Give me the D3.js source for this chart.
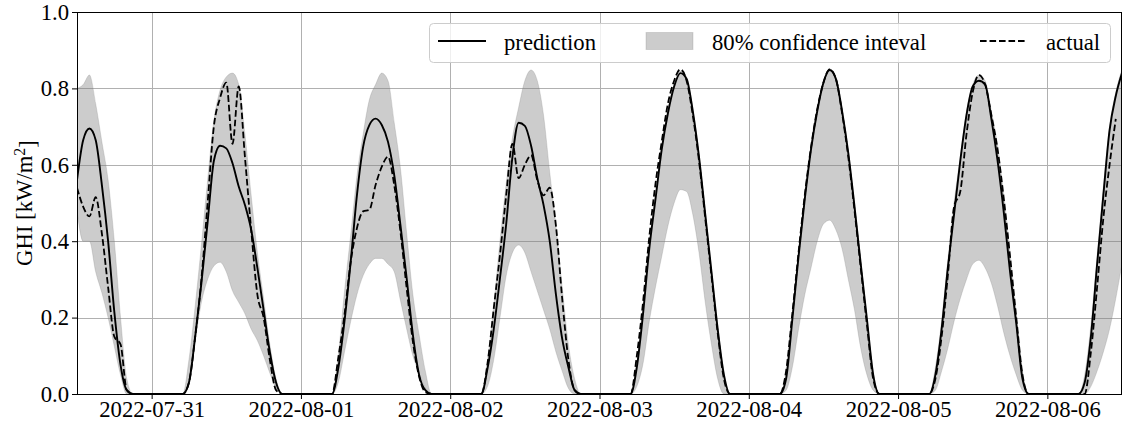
<!DOCTYPE html>
<html>
<head>
<meta charset="utf-8">
<script src="https://cdn.jsdelivr.net/npm/d3@7"></script>
<style>
  body { margin: 0; background: #fff; }
  svg text { font-family: "Liberation Serif", "Times New Roman", Times, Tinos, "Nimbus Roman", "DejaVu Serif", serif; }
</style>
</head>
<body>
<div id="chart"></div>
<script>
// first hour of each block of hourly readings (night hours in between are 0)
var day_starts = ["2022-07-30 12:00", "2022-07-31 05:00", "2022-08-01 05:00", "2022-08-02 05:00",
                  "2022-08-03 05:00", "2022-08-04 05:00", "2022-08-05 05:00", "2022-08-06 05:00"];

// predicted GHI [kW/m2], hourly
var prediction = [
    [0.56, 0.665, 0.695, 0.665, 0.547, 0.40, 0.215, 0.076, 0.01, 0],
    [0, 0.03, 0.15, 0.29, 0.45, 0.61, 0.65, 0.643, 0.604, 0.543, 0.495, 0.43, 0.33, 0.22, 0.11, 0.03, 0],
    [0, 0.067, 0.19, 0.346, 0.52, 0.647, 0.704, 0.721, 0.704, 0.66, 0.573, 0.442, 0.303, 0.155, 0.05, 0.01, 0],
    [0, 0.067, 0.17, 0.303, 0.445, 0.62, 0.71, 0.702, 0.65, 0.565, 0.495, 0.40, 0.26, 0.145, 0.07, 0.01, 0],
    [0, 0.07, 0.21, 0.38, 0.51, 0.64, 0.735, 0.805, 0.84, 0.825, 0.74, 0.62, 0.47, 0.32, 0.17, 0.05, 0],
    [0, 0.04, 0.195, 0.36, 0.51, 0.64, 0.74, 0.815, 0.848, 0.825, 0.74, 0.63, 0.49, 0.34, 0.195, 0.05, 0],
    [0, 0.05, 0.17, 0.33, 0.47, 0.61, 0.73, 0.805, 0.82, 0.81, 0.72, 0.61, 0.475, 0.32, 0.185, 0.04, 0],
    [0, 0.03, 0.15, 0.34, 0.52, 0.69, 0.78, 0.84]
];

// measured GHI
var actual = [
    [0.54, 0.49, 0.465, 0.515, 0.42, 0.28, 0.15, 0.13, 0.01, 0],
    [0, 0.03, 0.15, 0.30, 0.50, 0.70, 0.775, 0.815, 0.655, 0.805, 0.62, 0.43, 0.26, 0.20, 0.09, 0.01, 0],
    [0, 0.094, 0.207, 0.346, 0.434, 0.478, 0.482, 0.547, 0.595, 0.621, 0.547, 0.425, 0.277, 0.137, 0.046, 0.005, 0],
    [0, 0.08, 0.224, 0.364, 0.52, 0.655, 0.565, 0.60, 0.625, 0.56, 0.52, 0.54, 0.44, 0.25, 0.09, 0.01, 0],
    [0, 0.10, 0.24, 0.41, 0.55, 0.66, 0.76, 0.82, 0.85, 0.82, 0.73, 0.61, 0.46, 0.31, 0.16, 0.04, 0],
    [0, 0.06, 0.21, 0.37, 0.52, 0.645, 0.745, 0.815, 0.85, 0.825, 0.735, 0.62, 0.48, 0.33, 0.18, 0.04, 0],
    [0, 0.04, 0.15, 0.31, 0.49, 0.53, 0.68, 0.79, 0.835, 0.81, 0.73, 0.64, 0.51, 0.36, 0.20, 0.05, 0],
    [0, 0.0, 0.11, 0.28, 0.46, 0.60, 0.72]
];

// 80% confidence interval, upper and lower bound
var upper = [
    [0.80, 0.81, 0.835, 0.76, 0.66, 0.56, 0.40, 0.20, 0.04, 0],
    [0, 0.09, 0.23, 0.39, 0.56, 0.715, 0.795, 0.83, 0.84, 0.81, 0.68, 0.52, 0.37, 0.25, 0.13, 0.04, 0],
    [0, 0.10, 0.268, 0.416, 0.57, 0.68, 0.77, 0.81, 0.84, 0.82, 0.71, 0.59, 0.42, 0.26, 0.155, 0.06, 0],
    [0, 0.09, 0.23, 0.40, 0.55, 0.67, 0.75, 0.82, 0.848, 0.82, 0.73, 0.58, 0.44, 0.28, 0.13, 0.04, 0],
    [0, 0.08, 0.22, 0.39, 0.52, 0.65, 0.745, 0.81, 0.845, 0.83, 0.75, 0.63, 0.48, 0.33, 0.18, 0.06, 0],
    [0, 0.06, 0.21, 0.37, 0.52, 0.65, 0.75, 0.82, 0.85, 0.83, 0.75, 0.64, 0.50, 0.35, 0.20, 0.06, 0],
    [0, 0.07, 0.19, 0.35, 0.50, 0.62, 0.74, 0.81, 0.835, 0.82, 0.74, 0.65, 0.52, 0.37, 0.21, 0.06, 0],
    [0, 0.05, 0.18, 0.36, 0.54, 0.70, 0.79, 0.85]
];
var lower = [
    [0.48, 0.40, 0.40, 0.32, 0.265, 0.20, 0.125, 0.05, 0.0, 0],
    [0, 0.03, 0.14, 0.24, 0.30, 0.335, 0.345, 0.32, 0.27, 0.24, 0.21, 0.17, 0.14, 0.10, 0.055, 0.015, 0],
    [0, 0.03, 0.11, 0.19, 0.26, 0.31, 0.34, 0.355, 0.355, 0.34, 0.32, 0.245, 0.17, 0.10, 0.055, 0.015, 0],
    [0, 0.02, 0.09, 0.20, 0.31, 0.37, 0.39, 0.37, 0.32, 0.27, 0.22, 0.17, 0.11, 0.06, 0.015, 0, 0],
    [0, 0.02, 0.08, 0.19, 0.28, 0.36, 0.44, 0.50, 0.535, 0.53, 0.47, 0.37, 0.24, 0.13, 0.04, 0, 0],
    [0, 0.01, 0.07, 0.17, 0.26, 0.33, 0.40, 0.445, 0.455, 0.43, 0.38, 0.30, 0.22, 0.12, 0.05, 0.01, 0],
    [0, 0.01, 0.06, 0.12, 0.19, 0.25, 0.30, 0.34, 0.35, 0.33, 0.29, 0.23, 0.16, 0.10, 0.05, 0.01, 0],
    [0, 0, 0.02, 0.06, 0.11, 0.17, 0.25, 0.34]
];

var y_ticks = [0.0, 0.2, 0.4, 0.6, 0.8, 1.0];
var x_range = ["2022-07-30 12:00", "2022-08-06 12:00"];

var parse = d3.timeParse("%Y-%m-%d %H:%M");
var serif = '"Liberation Serif", "Times New Roman", Times, Tinos, "Nimbus Roman", "DejaVu Serif", serif';

// flatten the per-day arrays into {t, v} points
function to_points(blocks){
    var pts = [];
    blocks.forEach(function(vals, d){
        var t0 = parse(day_starts[d]);
        vals.forEach(function(v, i){
            pts.push({t: d3.timeHour.offset(t0, i), v: v});
        });
    });
    return pts;
}

var pred_pts = to_points(prediction);
var act_pts = to_points(actual);
var hi_pts = to_points(upper);
var lo_pts = to_points(lower);
var band_pts = hi_pts.map(function(d, i){ return {t: d.t, hi: d.v, lo: lo_pts[i].v}; });

var W = 1123, H = 431;
var m = {left: 77, right: 1, top: 12, bottom: 37};

var svg = d3.select("#chart").append("svg")
    .attr("width", W)
    .attr("height", H)
    .attr("font-family", serif);

var x = d3.scaleTime()
    .domain(x_range.map(parse))
    .range([m.left, W - m.right]);

var y = d3.scaleLinear()
    .domain([0, 1])
    .range([H - m.bottom, m.top]);

var x_ticks = d3.timeDay.range(parse("2022-07-31 00:00"), parse("2022-08-06 12:00"));

svg.append("clipPath").attr("id", "plot")
    .append("rect")
    .attr("x", m.left).attr("y", m.top)
    .attr("width", W - m.right - m.left).attr("height", H - m.bottom - m.top);

// grid
var grid = svg.append("g").attr("stroke", "#b0b0b0").attr("stroke-width", 1);
grid.selectAll(".gx").data(x_ticks).enter().append("line")
    .attr("x1", function(d){ return Math.round(x(d)) + 0.5; })
    .attr("x2", function(d){ return Math.round(x(d)) + 0.5; })
    .attr("y1", m.top).attr("y2", H - m.bottom);
grid.selectAll(".gy").data(y_ticks).enter().append("line")
    .attr("y1", function(d){ return Math.round(y(d)) + 0.5; })
    .attr("y2", function(d){ return Math.round(y(d)) + 0.5; })
    .attr("x1", m.left).attr("x2", W - m.right);

var plot = svg.append("g").attr("clip-path", "url(#plot)");

// confidence band
var band = d3.area()
    .x(function(d){ return x(d.t); })
    .y0(function(d){ return y(d.lo); })
    .y1(function(d){ return y(d.hi); })
    .curve(d3.curveMonotoneX);

plot.append("path")
    .datum(band_pts)
    .attr("d", band)
    .attr("fill", "gray")
    .attr("fill-opacity", 0.4)
    .attr("stroke", "gray")
    .attr("stroke-opacity", 0.25)
    .attr("stroke-width", 1);

var line = d3.line()
    .x(function(d){ return x(d.t); })
    .y(function(d){ return y(d.v); })
    .curve(d3.curveMonotoneX);

plot.append("path")
    .datum(pred_pts)
    .attr("d", line)
    .attr("fill", "none")
    .attr("stroke", "black")
    .attr("stroke-width", 1.9);

plot.append("path")
    .datum(act_pts)
    .attr("d", line)
    .attr("fill", "none")
    .attr("stroke", "black")
    .attr("stroke-width", 1.8)
    .attr("stroke-dasharray", "6.6,2.9");

// axes
var fs = 22.7;
var xAxis = d3.axisBottom(x)
    .tickValues(x_ticks)
    .tickFormat(d3.timeFormat("%Y-%m-%d"))
    .tickSize(5)
    .tickPadding(2);
var yAxis = d3.axisLeft(y)
    .tickValues(y_ticks)
    .tickFormat(d3.format(".1f"))
    .tickSize(5)
    .tickPadding(3);

var gx = svg.append("g")
    .attr("transform", "translate(0," + (H - m.bottom) + ")")
    .call(xAxis);
var gy = svg.append("g")
    .attr("transform", "translate(" + m.left + ",0)")
    .call(yAxis);

[gx, gy].forEach(function(g){
    g.attr("font-family", serif).attr("font-size", fs);
    g.select(".domain").remove();
    g.selectAll("line").attr("stroke", "black").attr("stroke-width", 1);
    g.selectAll("text").attr("fill", "black");
});

// frame
svg.append("rect")
    .attr("x", m.left + 0.5).attr("y", m.top + 0.5)
    .attr("width", W - m.right - m.left - 1).attr("height", H - m.bottom - m.top)
    .attr("fill", "none")
    .attr("stroke", "black")
    .attr("stroke-width", 1);

// y label
var ylab = svg.append("text")
    .attr("transform", "translate(32," + ((m.top + H - m.bottom) / 2) + ") rotate(-90)")
    .attr("text-anchor", "middle")
    .attr("font-size", fs);
ylab.append("tspan").text("GHI [kW/m");
ylab.append("tspan").attr("dy", "-0.45em").attr("font-size", fs * 0.7).text("2");
ylab.append("tspan").attr("dy", "0.45em").text("]");

// legend
var lg = svg.append("g").attr("font-size", fs);
lg.append("rect")
    .attr("x", 429.5).attr("y", 23.5)
    .attr("width", 681).attr("height", 39)
    .attr("rx", 4)
    .attr("fill", "white").attr("fill-opacity", 0.8)
    .attr("stroke", "#cccccc").attr("stroke-width", 1);

lg.append("line")
    .attr("x1", 438).attr("x2", 486).attr("y1", 41).attr("y2", 41)
    .attr("stroke", "black").attr("stroke-width", 1.9);
lg.append("text").attr("x", 504).attr("y", 49.5).text("prediction");

lg.append("rect")
    .attr("x", 646).attr("y", 32.5).attr("width", 47).attr("height", 17)
    .attr("fill", "gray").attr("fill-opacity", 0.4)
    .attr("stroke", "gray").attr("stroke-opacity", 0.25);
lg.append("text").attr("x", 712).attr("y", 49.5).text("80% confidence inteval");

lg.append("line")
    .attr("x1", 980).attr("x2", 1027).attr("y1", 41).attr("y2", 41)
    .attr("stroke", "black").attr("stroke-width", 1.8)
    .attr("stroke-dasharray", "6.6,2.9");
lg.append("text").attr("x", 1046).attr("y", 49.5).text("actual");
</script>
</body>
</html>
